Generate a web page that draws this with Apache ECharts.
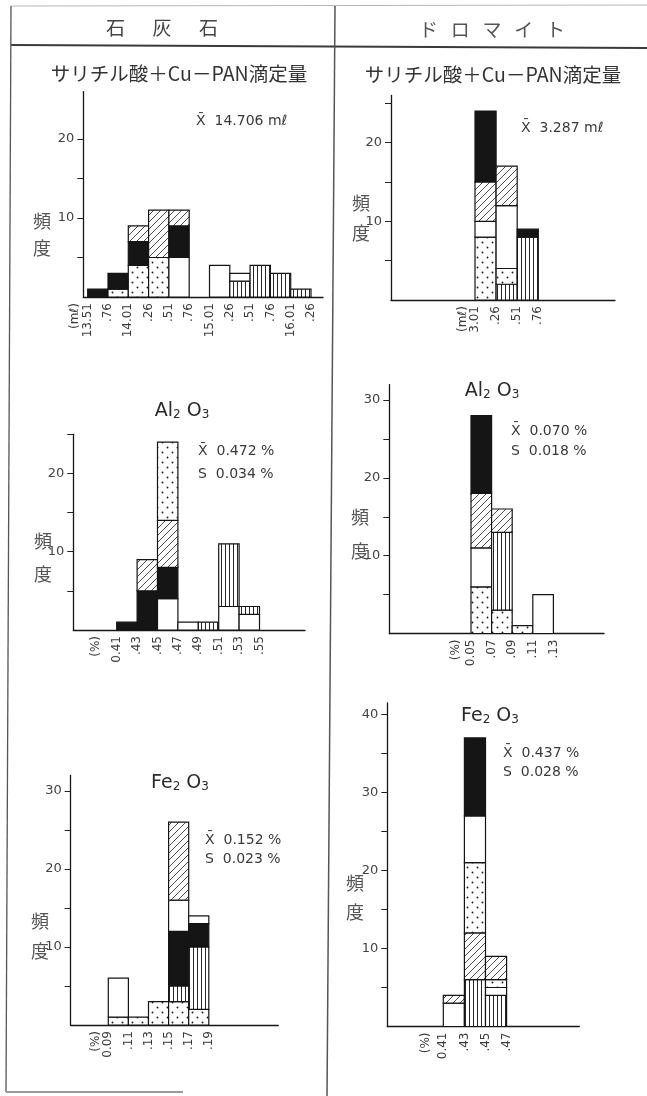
<!DOCTYPE html>
<html><head><meta charset="utf-8">
<script src="https://cdn.jsdelivr.net/npm/echarts@6/dist/echarts.min.js"></script>
<style>html,body{margin:0;padding:0;background:#fff}#c{width:647px;height:1096px}</style>
</head><body><div id="c"></div>
<script>
// ---------- DATA ----------
// Each bin: list of [pattern, count] stacked from the bottom up.
// 石灰石 サリチル酸+Cu-PAN滴定量
const lsTitrUnit = '(mℓ)';
const lsTitrEdges = ['13.51','.76','14.01','.26','.51','.76','15.01','.26','.51','.76','16.01','.26'];
const lsTitrBins = [
  [['black',1]],
  [['dot',1],['black',2]],
  [['dot',4],['black',3],['hatch',2]],
  [['dot',5],['hatch',6]],
  [['white',5],['black',4],['hatch',2]],
  [],
  [['white',4]],
  [['vline',2],['white',1]],
  [['vline',4]],
  [['vline',3]],
  [['vline',1]]
];
const lsTitrYTicks = [5,10,15,20];
const lsTitrYLabels = [10,20];

// ドロマイト サリチル酸+Cu-PAN滴定量
const doTitrUnit = '(mℓ)';
const doTitrEdges = ['3.01','.26','.51','.76'];
const doTitrBins = [
  [['dot',8],['white',2],['hatch',5],['black',9]],
  [['vline',2],['dot',2],['white',8],['hatch',5]],
  [['vline',8],['black',1]]
];
const doTitrYTicks = [5,10,15,20,25];
const doTitrYLabels = [10,20];

// 石灰石 Al2O3
const lsAlUnit = '(%)';
const lsAlEdges = ['0.41','.43','.45','.47','.49','.51','.53','.55'];
const lsAlBins = [
  [['black',1]],
  [['black',5],['hatch',4]],
  [['white',4],['black',4],['hatch',6],['dot',10]],
  [['white',1]],
  [['vline',1]],
  [['white',3],['vline',8]],
  [['white',2],['vline',1]]
];
const lsAlYTicks = [5,10,15,20,25];
const lsAlYLabels = [10,20];

// ドロマイト Al2O3
const doAlUnit = '(%)';
const doAlEdges = ['0.05','.07','.09','.11','.13'];
const doAlBins = [
  [['dot',6],['white',5],['hatch',7],['black',10]],
  [['dot',3],['vline',10],['hatch',3]],
  [['dot',1]],
  [['white',5]]
];
const doAlYTicks = [5,10,15,20,25,30];
const doAlYLabels = [10,20,30];

// 石灰石 Fe2O3
const lsFeUnit = '(%)';
const lsFeEdges = ['0.09','.11','.13','.15','.17','.19'];
const lsFeBins = [
  [['dot',1],['white',5]],
  [['dot',1]],
  [['dot',3]],
  [['dot',3],['vline',2],['black',7],['white',4],['hatch',10]],
  [['dot',2],['vline',8],['black',3],['white',1]]
];
const lsFeYTicks = [5,10,15,20,25,30];
const lsFeYLabels = [10,20,30];

// ドロマイト Fe2O3
const doFeUnit = '(%)';
const doFeEdges = ['0.41','.43','.45','.47'];
const doFeBins = [
  [['white',3],['hatch',1]],
  [['vline',6],['hatch',6],['dot',9],['white',6],['black',10]],
  [['vline',4],['white',1],['dot',1],['hatch',3]]
];
const doFeYTicks = [5,10,15,20,25,30,35,40];
const doFeYLabels = [10,20,30,40];

// ---------- STYLE / LAYOUT ----------
function tile(w,h,draw){const c=document.createElement('canvas');c.width=w;c.height=h;const g=c.getContext('2d');g.fillStyle='#fff';g.fillRect(0,0,w,h);draw(g);return c;}
const FILLS = {
  black: '#151515',
  white: '#ffffff',
  hatch: {image: tile(7,7,g=>{g.strokeStyle='#3a3a3a';g.lineWidth=0.9;g.beginPath();g.moveTo(-1,8);g.lineTo(8,-1);g.moveTo(-1,1);g.lineTo(1,-1);g.moveTo(6,8);g.lineTo(8,6);g.stroke();}), repeat:'repeat'},
  dot: {image: tile(10,10,g=>{g.fillStyle='#1e1e1e';g.beginPath();g.arc(2.5,2.5,0.95,0,7);g.fill();g.beginPath();g.arc(7.5,7.5,0.95,0,7);g.fill();}), repeat:'repeat'},
  vline: {image: tile(4,4,g=>{g.fillStyle='#262626';g.fillRect(1,0,1,4);}), repeat:'repeat'}
};
const PATS = ['black','white','hatch','dot','vline'];

const panels = [
  {unit:lsTitrUnit, edges:lsTitrEdges, bins:lsTitrBins, yt:lsTitrYTicks, yl:lsTitrYLabels,
   L:{ax:83.3, base:297, end:323, e0:87.7, bw:20.3, yMax:26, ys:7.9, uOff:13}},
  {unit:doTitrUnit, edges:doTitrEdges, bins:doTitrBins, yt:doTitrYTicks, yl:doTitrYLabels,
   L:{ax:391, base:300, end:615, e0:475, bw:21.1, yMax:26, ys:7.87, uOff:12}},
  {unit:lsAlUnit, edges:lsAlEdges, bins:lsAlBins, yt:lsAlYTicks, yl:lsAlYLabels,
   L:{ax:73.3, base:630, end:305, e0:116.7, bw:20.4, yMax:25, ys:7.83, uOff:21}},
  {unit:doAlUnit, edges:doAlEdges, bins:doAlBins, yt:doAlYTicks, yl:doAlYLabels,
   L:{ax:389.3, base:633.5, end:604, e0:471, bw:20.6, yMax:32, ys:7.78, uOff:15}},
  {unit:lsFeUnit, edges:lsFeEdges, bins:lsFeBins, yt:lsFeYTicks, yl:lsFeYLabels,
   L:{ax:70.7, base:1025, end:278.3, e0:108.3, bw:20.1, yMax:32, ys:7.8, uOff:12}},
  {unit:doFeUnit, edges:doFeEdges, bins:doFeBins, yt:doFeYTicks, yl:doFeYLabels,
   L:{ax:387.3, base:1026.5, end:579.3, e0:443.3, bw:21.1, yMax:41.5, ys:7.8, uOff:17}}
];

const NUMFONT = 'DejaVu Sans';
const JPFONT = '"Noto Sans CJK JP"';
const grid=[], xAxis=[], yAxis=[], series=[], graphic=[];

function renderBar(params, api){
  const b=api.value(0), y0=api.value(1), y1=api.value(2), p=api.value(3);
  const a=api.coord([b,y1]), c=api.coord([b+1,y0]);
  return {type:'rect', shape:{x:a[0], y:a[1], width:c[0]-a[0], height:c[1]-a[1]},
    style:{fill:FILLS[PATS[p]], stroke:'#141414', lineWidth:1.2}};
}

panels.forEach((P,i)=>{
  const L=P.L;
  const h=L.yMax*L.ys;
  grid.push({left:L.ax, top:L.base-h, width:L.end-L.ax, height:h, outerBoundsMode:'none'});
  const xMin=-(L.e0-L.ax)/L.bw, xMax=(L.end-L.e0)/L.bw;
  const edges=P.edges;
  xAxis.push({type:'value', gridIndex:i, min:xMin, max:xMax,
    axisLine:{show:true,onZero:false,lineStyle:{color:'#161616',width:1.3}},
    axisTick:{show:false}, splitLine:{show:false},
    axisLabel:{customValues: edges.map((_,k)=>k), rotate:90, margin:6,
      formatter:v=>edges[Math.round(v)]||'', color:'#3c3c3c', fontSize:12, fontFamily:NUMFONT,
      showMinLabel:true, showMaxLabel:true, hideOverlap:false}
  });
  yAxis.push({type:'value', gridIndex:i, min:0, max:L.yMax, position:'left',
    axisLine:{show:true,onZero:false,lineStyle:{color:'#161616',width:1.3}},
    axisTick:{show:true, length:6, customValues:P.yt, lineStyle:{color:'#222',width:1}},
    axisLabel:{customValues:P.yl, color:'#444', fontSize:13, fontFamily:NUMFONT, margin:9,
      showMinLabel:true, showMaxLabel:true},
    splitLine:{show:false}
  });
  const data=[];
  P.bins.forEach((stack,b)=>{
    let acc=0;
    stack.forEach(([pat,n])=>{data.push([b,acc,acc+n,PATS.indexOf(pat)]); acc+=n;});
  });
  series.push({type:'custom', xAxisIndex:i, yAxisIndex:i, renderItem:renderBar, data,
    encode:{x:[0], y:[1,2]}, clip:false, silent:true});
  // unit label, rotated, next to the first edge label
  graphic.push({type:'text', x:L.e0-L.uOff, y:L.base+6, rotation:Math.PI/2,
    style:{text:P.unit, font:'12px "'+NUMFONT+'"', fill:'#3c3c3c', textAlign:'right', textVerticalAlign:'middle'}});
});

// texts
function txt(x,y,text,font,opts){graphic.push({type:'text',x,y,style:Object.assign({text,font,fill:'#3a3a3a',textAlign:'center',textVerticalAlign:'middle'},opts||{})});}
txt(162,28,'石　  灰　  石','19px '+JPFONT,{fill:'#444'});
txt(492,30,'ド   ロ   マ   イ   ト','19px '+JPFONT,{fill:'#555'});
txt(179,74,'サリチル酸＋Cu－PAN滴定量','19.5px '+JPFONT,{fill:'#333'});
txt(493,75,'サリチル酸＋Cu－PAN滴定量','19.5px '+JPFONT,{fill:'#333'});

const chemRich={a:{fontSize:19,fontFamily:NUMFONT,lineHeight:22,verticalAlign:'bottom',fill:'#2a2a2a'},
                s:{fontSize:12,fontFamily:NUMFONT,lineHeight:22,verticalAlign:'bottom',fill:'#2a2a2a'}};
function chem(x,y,t){graphic.push({type:'text',x,y,style:{text:t,rich:chemRich,textAlign:'center',textVerticalAlign:'middle'}});}
chem(182,410,'{a|Al}{s|2}{a| O}{s|3}');
chem(492,390,'{a|Al}{s|2}{a| O}{s|3}');
chem(180,782,'{a|Fe}{s|2}{a| O}{s|3}');
chem(490,715,'{a|Fe}{s|2}{a| O}{s|3}');

function stat(x,y,t){txt(x,y,t,'14px "'+NUMFONT+'"',{textAlign:'left',fill:'#3a3a3a'});}
stat(196,121.5,'X̄  14.706 mℓ');
stat(521,128,'X̄  3.287 mℓ');
stat(198,451.5,'X̄  0.472 %'); stat(198,474,'S  0.034 %');
stat(511,431,'X̄  0.070 %'); stat(511,451,'S  0.018 %');
stat(205,840,'X̄  0.152 %'); stat(205,859,'S  0.023 %');
stat(503,753,'X̄  0.437 %'); stat(503,772,'S  0.028 %');

function freq(x,y,lh){txt(x,y,'頻\n度','18px '+JPFONT,{fill:'#555',lineHeight:lh});}
freq(42,235,27); freq(361,218,30); freq(43,558,33); freq(360,534,34); freq(40,936,30); freq(355,898,29);

// frame lines
function line(x1,y1,x2,y2,c,w){graphic.push({type:'line',shape:{x1,y1,x2,y2},style:{stroke:c,lineWidth:w},silent:true});}
line(11,6,647,5,'#b5b5b5',1);
line(11,45,647,48,'#3a3a3a',1.8);
line(11,6,6,1092,'#555',1.3);
line(335,6,327,1096,'#555',1.5);
line(6,1092,183,1092,'#999',2);

const chart=echarts.init(document.getElementById('c'),null,{renderer:'canvas'});
chart.setOption({animation:false, backgroundColor:'#fff', grid, xAxis, yAxis, series, graphic});
</script></body></html>
